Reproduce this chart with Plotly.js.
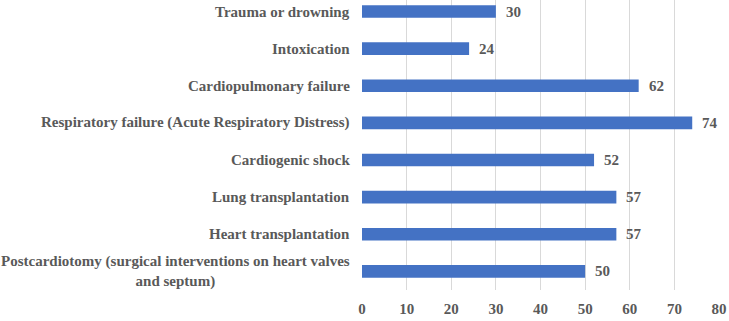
<!DOCTYPE html>
<html>
<head>
<meta charset="utf-8">
<script src="https://cdn.plot.ly/plotly-3.0.1.min.js"></script>
<style>
  html, body { margin: 0; padding: 0; background: #ffffff; }
  #chart { width: 729px; height: 321px; }
</style>
</head>
<body>
<div id="chart"></div>
<script>
// Indications, listed top to bottom
const categories = [
  "Trauma or drowning",
  "Intoxication",
  "Cardiopulmonary failure",
  "Respiratory failure (Acute Respiratory Distress)",
  "Cardiogenic shock",
  "Lung transplantation",
  "Heart transplantation",
  "Postcardiotomy (surgical interventions on heart valves<br>and septum)"
];
const values = [30, 24, 62, 74, 52, 57, 57, 50];
const xTicks = [0, 10, 20, 30, 40, 50, 60, 70, 80];

const textFont = { family: "Liberation Serif", size: 15, color: "#595959", weight: "bold" };

const bars = {
  type: "bar",
  orientation: "h",
  x: values,
  y: categories,
  marker: { color: "#4472C4", line: { width: 0 } },
  hoverinfo: "none"
};

// Value labels just past the end of each bar
const valueLabels = values.map((v, i) => ({
  x: v,
  y: categories[i],
  xref: "x",
  yref: "y",
  text: String(v),
  showarrow: false,
  xanchor: "left",
  yanchor: "middle",
  xshift: 8,
  font: textFont
}));

// Category labels, right-aligned against the axis; wrapped lines are centred
const categoryLabels = categories.map((c) => ({
  x: 0,
  y: c,
  xref: "x",
  yref: "y",
  text: c,
  showarrow: false,
  xanchor: "right",
  yanchor: "middle",
  align: "center",
  xshift: -10,
  font: textFont
}));

const layout = {
  width: 729,
  height: 321,
  margin: { l: 362, r: 10, t: 0, b: 30.5 },
  paper_bgcolor: "#ffffff",
  plot_bgcolor: "#ffffff",
  showlegend: false,
  bargap: 0.66,
  font: textFont,
  xaxis: {
    range: [0, 80],
    tickvals: xTicks,
    ticktext: xTicks.map(String),
    showgrid: true,
    gridcolor: "#D9D9D9",
    gridwidth: 1,
    zeroline: false,
    showline: false,
    ticks: "",
    ticklabelstandoff: 8,
    tickfont: textFont,
    fixedrange: true
  },
  yaxis: {
    type: "category",
    categoryorder: "array",
    categoryarray: categories,
    range: [7.5, -0.31],
    showgrid: false,
    zeroline: false,
    showline: false,
    showticklabels: false,
    ticks: "",
    fixedrange: true
  },
  annotations: categoryLabels.concat(valueLabels)
};

Plotly.newPlot("chart", [bars], layout, { displayModeBar: false, staticPlot: true });
</script>
</body>
</html>
